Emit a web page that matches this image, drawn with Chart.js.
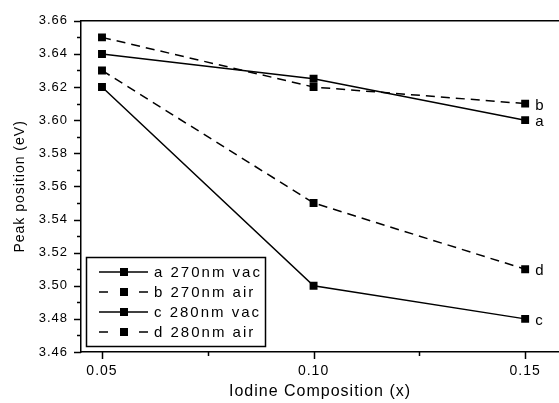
<!DOCTYPE html>
<html>
<head>
<meta charset="utf-8">
<script src="https://cdn.jsdelivr.net/npm/chart.js@4.4.1/dist/chart.umd.min.js"></script>
<style>
body{margin:0;background:#fff;}
</style>
</head>
<body>
<canvas id="peakChart" width="559" height="403"></canvas>
<script>
/* Data */

const composition=[0.05,0.10,0.15];

const seriesNames=["a 270nm vac","b 270nm air","c 280nm vac","d 280nm air"];

const seriesTags=["a","b","c","d"];

const peakA=[3.64,3.625,3.60];
const peakB=[3.65,3.62,3.61];
const peakC=[3.62,3.50,3.48];
const peakD=[3.63,3.55,3.51];

const allPeaks=[peakA,peakB,peakC,peakD];

/* Datasets */

const datasets=allPeaks.map((vals,i)=>({
label:seriesNames[i],
data:vals.map((v,j)=>({x:composition[j],y:v})),
borderColor:"#000",
backgroundColor:"#000",
borderWidth:1.5,
borderDash:i%2?[9,6]:[],
pointStyle:"rect",
pointRadius:5.6,
pointHoverRadius:5.6,
pointBorderWidth:0,
tension:0
}));

/* Extra drawing: letter spacing, frame, ticks, tags, legend */

const frame={
id:"frame",
beforeDraw(chart){
chart.ctx.letterSpacing="1px";
},
afterDraw(chart){
const ctx=chart.ctx;
const area=chart.chartArea;
const xs=chart.scales.x;
const ys=chart.scales.y;
ctx.save();
ctx.strokeStyle="#000";
ctx.lineWidth=1.5;
ctx.setLineDash([]);

// top frame line
ctx.beginPath();
ctx.moveTo(area.left,area.top);
ctx.lineTo(area.right,area.top);
ctx.stroke();

// y ticks
ys.ticks.forEach(t=>{
const py=Math.round(ys.getPixelForValue(t.value))+0.5;
const len=t.label?7:4;
ctx.beginPath();
ctx.moveTo(area.left-len,py);
ctx.lineTo(area.left,py);
ctx.stroke();
});

// x ticks
xs.ticks.forEach(t=>{
const px=Math.round(xs.getPixelForValue(t.value))+0.5;
const len=t.label?7:4;
ctx.beginPath();
ctx.moveTo(px,area.bottom);
ctx.lineTo(px,area.bottom+len);
ctx.stroke();
});

// end tags
ctx.fillStyle="#000";
ctx.font="15px 'Liberation Sans', Arial, sans-serif";
ctx.textBaseline="middle";
ctx.textAlign="left";
allPeaks.forEach((vals,i)=>{
const last=vals.length-1;
const px=xs.getPixelForValue(composition[last]);
const py=ys.getPixelForValue(vals[last]);
ctx.fillText(seriesTags[i],px+10,py+2);
});

// legend box
ctx.lineWidth=1.5;
ctx.strokeRect(86.5,257.5,179,89);
ctx.letterSpacing="2px";
ctx.font="15px 'Liberation Sans', Arial, sans-serif";
chart.data.datasets.forEach((ds,i)=>{
const y=272+i*20;
ctx.beginPath();
if(ds.borderDash.length){
ctx.moveTo(99,y);ctx.lineTo(108,y);
ctx.moveTo(139,y);ctx.lineTo(148,y);
}else{
ctx.moveTo(99,y);ctx.lineTo(148,y);
}
ctx.stroke();
ctx.fillRect(120,y-4,8,8);
ctx.fillText(ds.label,154,y+1);
});
ctx.restore();
}
};

/* Chart */

new Chart(document.getElementById("peakChart"),{
type:"line",
data:{datasets:datasets},
plugins:[frame],
options:{
responsive:false,
animation:false,
layout:{autoPadding:false,padding:{top:19,right:0,left:0,bottom:0}},
plugins:{legend:{display:false},tooltip:{enabled:false}},
scales:{
x:{
type:"linear",
min:0.04504,
max:0.158,
grid:{display:false,drawTicks:false},
border:{display:true,color:"#000",width:1.5},
ticks:{
stepSize:0.025,
includeBounds:false,
autoSkip:false,
maxRotation:0,
padding:11,
color:"#000",
font:{family:"'Liberation Sans', Arial, sans-serif",size:14},
callback:v=>Math.round(v*1000)%50===0?v.toFixed(2):""
},
title:{
display:true,
text:"Iodine Composition (x)",
color:"#000",
font:{family:"'Liberation Sans', Arial, sans-serif",size:16},
padding:{top:0,bottom:2}
},
afterFit:s=>{s.height=51;}
},
y:{
min:3.46,
max:3.66,
grid:{display:false,drawTicks:false},
border:{display:true,color:"#000",width:1.5},
ticks:{
stepSize:0.01,
autoSkip:false,
padding:13,
color:"#000",
font:{family:"'Liberation Sans', Arial, sans-serif",size:13},
callback:v=>Math.round(v*100)%2===0?v.toFixed(2):""
},
title:{
display:true,
text:"Peak position (eV)",
color:"#000",
font:{family:"'Liberation Sans', Arial, sans-serif",size:14},
padding:{top:12,bottom:0}
},
afterFit:s=>{s.width=81;}
}
}
}
});
</script>
</body>
</html>
